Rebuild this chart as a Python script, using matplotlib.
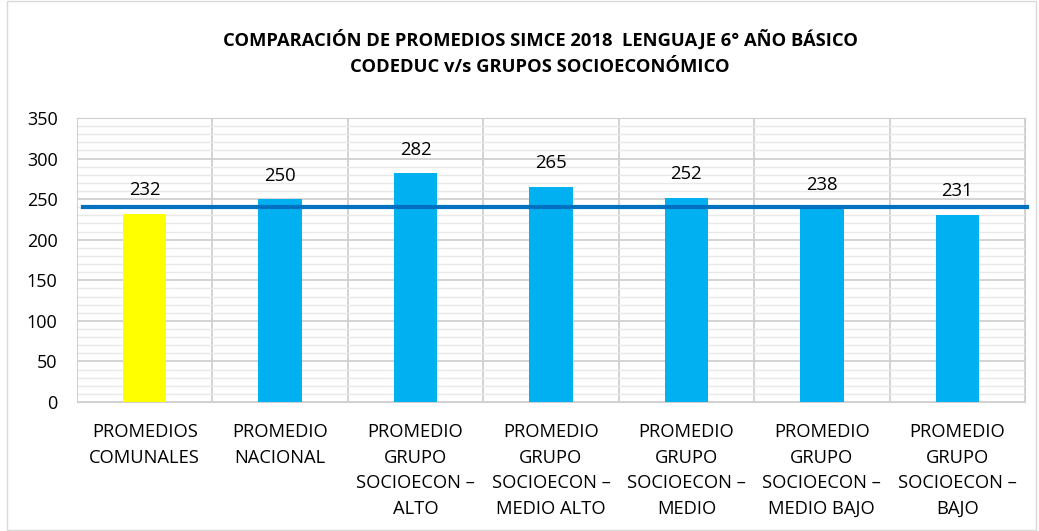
import matplotlib.pyplot as plt
from matplotlib.patches import Rectangle
import numpy as np

categorias = ["PROMEDIOS\nCOMUNALES", "PROMEDIO\nNACIONAL",
              "PROMEDIO\nGRUPO\nSOCIOECON –\nALTO", "PROMEDIO\nGRUPO\nSOCIOECON –\nMEDIO ALTO",
              "PROMEDIO\nGRUPO\nSOCIOECON –\nMEDIO", "PROMEDIO\nGRUPO\nSOCIOECON –\nMEDIO BAJO",
              "PROMEDIO\nGRUPO\nSOCIOECON –\nBAJO"]
promedios = [232, 250, 282, 265, 252, 238, 231]
colores = ["#FFFF00", "#00B0F0", "#00B0F0", "#00B0F0", "#00B0F0", "#00B0F0", "#00B0F0"]
referencia = 240

plt.rcParams['font.family'] = ['Open Sans', 'DejaVu Sans']

fig = plt.figure(figsize=(10.39, 5.31), dpi=100)
ax = fig.add_axes([0.0741, 0.2429, 0.9124, 0.5349])

x = np.arange(len(categorias))
ax.bar(x, promedios, width=0.32, color=colores, zorder=3)
for xi, v in zip(x, promedios):
    ax.text(xi, v + 18, str(v), ha='center', va='bottom', fontsize=13.3)

ax.axhline(referencia, xmin=0.006, xmax=1.002, color="#0070C0", lw=3, zorder=4, clip_on=False)

ax.set_xlim(-0.5, len(categorias) - 0.5)
ax.set_ylim(0, 350)
ax.set_yticks(range(0, 351, 50))
ax.set_yticks(range(0, 351, 10), minor=True)
ax.set_xticks(x)
ax.set_xticklabels(categorias, fontsize=13.2, linespacing=1.55)
ax.set_xticks(np.arange(-0.5, len(categorias), 1), minor=True)
ax.tick_params(axis='both', which='both', length=0)
ax.tick_params(axis='y', labelsize=13, pad=14)
ax.tick_params(axis='x', pad=15)
ax.grid(axis='y', which='major', color='#D0D0D0', lw=1.3, zorder=0)
ax.grid(axis='y', which='minor', color='#E8E8E8', lw=1, zorder=0)
ax.grid(axis='x', which='minor', color='#D0D0D0', lw=1.3, zorder=0)
for s in ax.spines.values():
    s.set_color('#D0D0D0')

fig.text(0.52, 0.9, "COMPARACIÓN DE PROMEDIOS SIMCE 2018  LENGUAJE 6° AÑO BÁSICO\nCODEDUC v/s GRUPOS SOCIOECONÓMICO",
         ha='center', va='center', fontsize=13.2, fontweight='bold', linespacing=1.6)

fig.patches.append(Rectangle((0.007, 0.002), 0.99, 0.996, transform=fig.transFigure,
                             fill=False, edgecolor='#D9D9D9', lw=1))

fig.savefig("out.png", dpi=100)
